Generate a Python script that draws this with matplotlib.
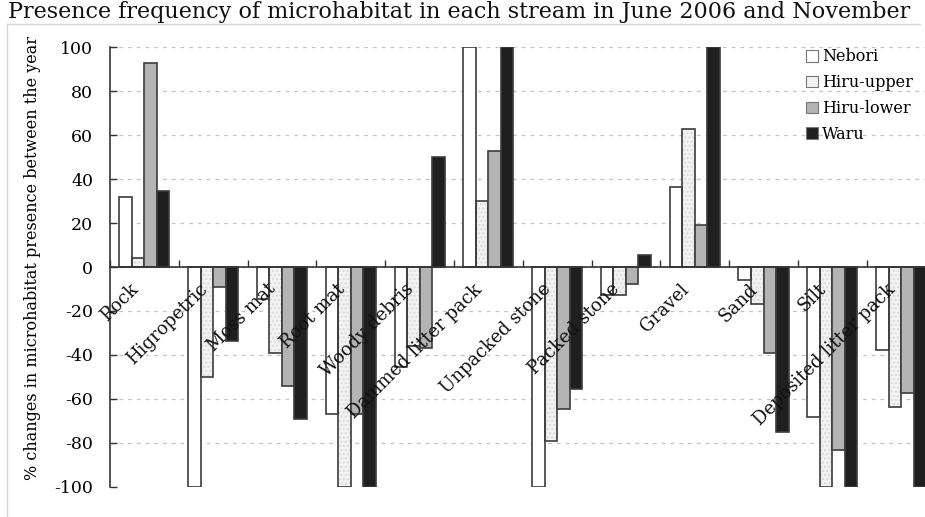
import matplotlib
matplotlib.use("Agg")
import matplotlib.pyplot as plt
import numpy as np
from matplotlib.patches import Patch
from matplotlib.lines import Line2D

categories = ["Rock", "Higropetric", "Moss mat", "Root mat", "Woody debris",
              "Dammed litter pack", "Unpacked stone", "Packed stone", "Gravel",
              "Sand", "Silt", "Deposited litter pack"]
nebori = [32, -100, -14.5, -67, -45.5, 100, -100, -12.6, 36.4, -5.8, -68.3, -37.6]
hiru_upper = [4, -50, -39, -100, -36, 30, -79, -12.6, 63, -16.7, -100, -63.7]
hiru_lower = [93, -9.3, -54, -67, -37, 53, -64.5, -7.6, 19, -39.2, -83.5, -57.4]
waru = [34.4, -33.5, -69, -100, 50, 100, -55.5, 5.3, 100, -75, -100, -100]
series_names = ["Nebori", "Hiru-upper", "Hiru-lower", "Waru"]
yticks = [100, 80, 60, 40, 20, 0, -20, -40, -60, -80, -100]
title = "Presence frequency of microhabitat in each stream in June 2006 and November"
ylabel = "% changes in microhabitat presence between the year"

FONT = ["DejaVu Serif"]
plt.rcParams["font.family"] = FONT

W, H = 925, 517
fig = plt.figure(figsize=(W / 100, H / 100), dpi=100)
ax = fig.add_axes([110 / W, 1 - 486.7 / H, 825.5 / W, 439.4 / H])

series = [nebori, hiru_upper, hiru_lower, waru]
faces = ["white", "#f2f2f2", "#b4b4b4", "#1f1f1f"]
edge = "#3c3c3c"
x = np.arange(len(categories))
bw = 0.182
for i, (vals, fc) in enumerate(zip(series, faces)):
    pos = x + (i - 1.5) * bw
    if i == 1:
        ax.bar(pos, vals, bw, color=fc, edgecolor="#dadada", hatch="....",
               linewidth=0, zorder=2)
        ax.bar(pos, vals, bw, fill=False, edgecolor=edge, linewidth=1.2, zorder=3)
    else:
        ax.bar(pos, vals, bw, color=fc, edgecolor=edge, linewidth=1.2, zorder=3)

ax.set_xlim(-0.5, len(categories) - 0.5)
ax.set_ylim(-100, 100)
ax.set_yticks(yticks)
ax.set_yticklabels([str(v) for v in yticks], fontsize=12.5)
ax.yaxis.grid(True, linestyle=(0, (3, 4)), color="#c4c4c4", linewidth=0.9, zorder=0)
ax.set_axisbelow(True)
ax.set_xticks(np.arange(-0.5, len(categories) + 0.5, 1.0))
ax.set_xticklabels([])
ax.tick_params(axis="x", direction="in", length=5, width=1, color="#333333")
ax.tick_params(axis="y", direction="in", length=5, width=1, color="#333333", pad=12)
for s in ["top", "right"]:
    ax.spines[s].set_visible(False)
ax.spines["bottom"].set_position(("data", 0))
ax.spines["bottom"].set_zorder(4)
ax.spines["bottom"].set_color("#333333")
ax.spines["left"].set_color("#333333")
ax.spines["bottom"].set_linewidth(1.2)
ax.spines["left"].set_linewidth(1.2)

for xi, cat in zip(x, categories):
    ax.text(xi - 0.22, -6, cat, rotation=45, rotation_mode="anchor",
            ha="right", va="top", fontsize=13, zorder=5, color="#111111")

ax.set_ylabel(ylabel, fontsize=11.5, labelpad=6)
ax.yaxis.set_label_coords(-0.083, 0.52)

handles = [Patch(facecolor=fc, edgecolor="#777777", linewidth=0.8) for fc in faces]
leg = fig.legend(handles, series_names, loc="upper left",
                 bbox_to_anchor=(792 / W, 1 - 34 / H), frameon=False,
                 fontsize=11.5, handlelength=0.75, handleheight=0.75,
                 handletextpad=0.25, labelspacing=0.55)

fig.text(8 / W, 1 - 18 / H, title, fontsize=16, va="baseline", ha="left",
         color="#111111")

fig.add_artist(Line2D([7 / W, 920 / W], [1 - 24 / H, 1 - 24 / H],
                      color="#d6d6d6", linewidth=1, transform=fig.transFigure))
fig.add_artist(Line2D([7 / W, 7 / W], [0, 1 - 24 / H],
                      color="#d6d6d6", linewidth=1, transform=fig.transFigure))

fig.savefig("out.png", dpi=100)
